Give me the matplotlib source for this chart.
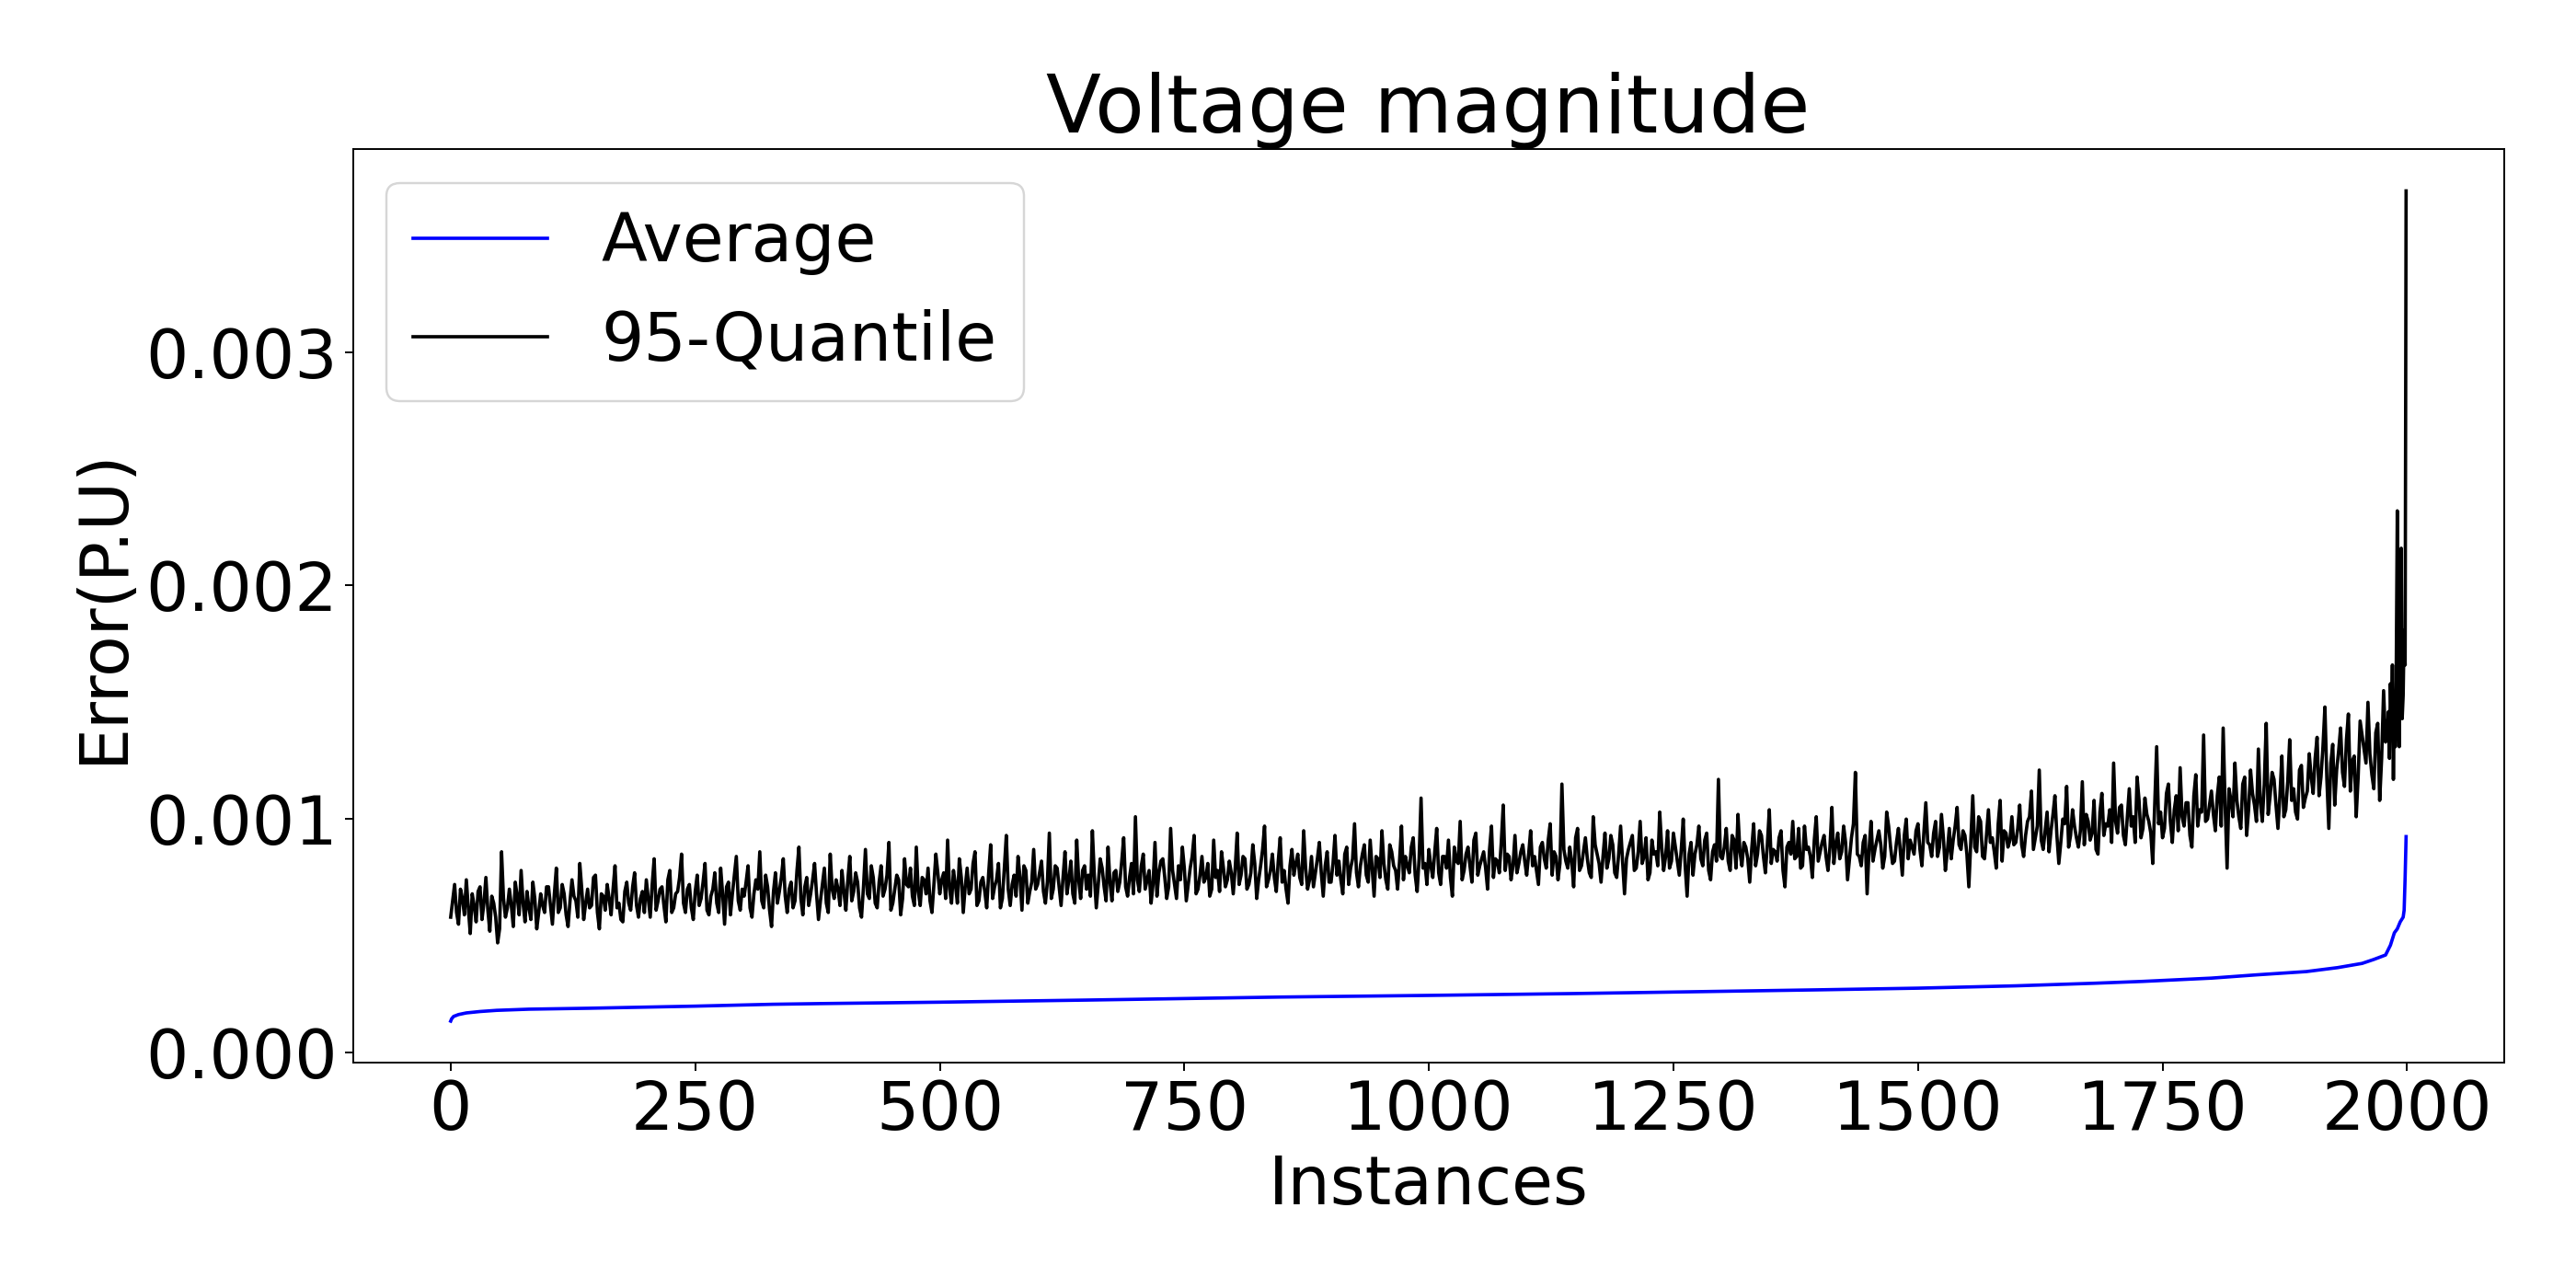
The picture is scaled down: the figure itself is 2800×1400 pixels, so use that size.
import numpy as np
import matplotlib
matplotlib.use("Agg")
import matplotlib.pyplot as plt

# Average error per instance (sorted curve), values in 1e-5 P.U
avg_x = [0, 1, 3, 8, 16, 30, 47, 80, 141, 250, 329, 379, 500, 650, 849, 1000,
         1150, 1291, 1400, 1500, 1600, 1680, 1730, 1800, 1846, 1897, 1929, 1954,
         1966, 1978, 1983, 1987, 1990, 1993, 1996, 1997, 1998, 1999]
avg_val = [13.5, 14.5, 15.5, 16.3, 17.0, 17.6, 18.1, 18.6, 19.0, 19.9, 20.7, 21.0,
           21.6, 22.5, 23.8, 24.5, 25.3, 26.2, 26.9, 27.6, 28.6, 29.7, 30.5, 31.9,
           33.3, 34.7, 36.4, 38.2, 39.9, 41.8, 46.0, 51.3, 53.0, 56.0, 58.0, 61.0,
           75.0, 92.5]

# 95-quantile error at instances 0, 4, 8, ... 1980 (1e-5 P.U)
q_body = [
    58, 72, 55, 66, 74, 51, 63, 69, 57, 75, 52, 64, 47, 86, 58, 70, 54, 67, 78, 56, 62, 73, 53, 68, 60,
    71, 55, 79, 62, 68, 54, 74, 65, 81, 57, 70, 63, 76, 53, 67, 72, 59, 80, 64, 56, 73, 61, 77, 58, 69,
    74, 58, 83, 65, 71, 56, 78, 62, 69, 85, 60, 72, 57, 76, 66, 81, 59, 70, 64, 79, 55, 73, 68, 84, 61,
    67, 80, 58, 74, 86, 62, 71, 54, 77, 69, 83, 60, 73, 65, 88, 59, 75, 68, 81, 57, 72, 64, 85, 66, 70,
    78, 61, 84, 69, 73, 58, 87, 66, 75, 62, 80, 70, 90, 64, 76, 59, 83, 71, 67, 88, 63, 74, 79, 60, 85,
    68, 77, 91, 64, 72, 83, 60, 79, 70, 86, 65, 75, 62, 89, 71, 81, 66, 93, 63, 76, 84, 61, 78, 69, 87,
    72, 82, 64, 94, 70, 79, 63, 86, 74, 68, 91, 66, 80, 76, 95, 62, 83, 71, 88, 65, 78, 73, 92, 67, 81,
    101, 69, 85, 74, 64, 90, 77, 83, 66, 96, 72, 80, 88, 65, 79, 93, 70, 84, 75, 67, 91, 78, 86, 71, 82,
    68, 94, 76, 83, 72, 89, 66, 80, 97, 74, 85, 69, 92, 78, 64, 87, 81, 75, 95, 70, 84, 77, 90, 67, 86,
    73, 93, 82, 68, 88, 79, 98, 71, 85, 76, 91, 67, 83, 95, 74, 89, 80, 70, 97, 84, 77, 92, 69, 109, 81,
    87, 75, 96, 72, 84, 91, 67, 82, 99, 78, 88, 73, 94, 80, 86, 70, 97, 83, 77, 106, 85, 74, 93, 81, 89,
    76, 95, 84, 72, 90, 79, 98, 86, 74, 115, 82, 88, 71, 96, 80, 92, 77, 101, 85, 73, 94, 83, 89, 75, 97,
    68, 87, 93, 79, 99, 84, 74, 91, 86, 103, 78, 95, 82, 88, 76, 100, 67, 90, 85, 97, 80, 94, 74, 89, 117,
    83, 96, 78, 91, 102, 80, 88, 73, 98, 85, 93, 77, 104, 87, 82, 95, 71, 90, 99, 84, 79, 97, 88, 75, 101,
    86, 93, 78, 105, 89, 83, 97, 74, 92, 120, 84, 90, 68, 99, 87, 95, 79, 103, 88, 82, 96, 76, 100, 91, 85,
    98, 80, 107, 89, 94, 84, 102, 78, 96, 91, 105, 87, 93, 71, 110, 86, 99, 83, 104, 92, 79, 108, 95, 88, 101,
    90, 106, 84, 99, 112, 92, 121, 87, 103, 95, 110, 81, 100, 114, 93, 97, 88, 116, 102, 91, 108, 85, 111, 98, 104,
    124, 94, 106, 89, 113, 101, 118, 92, 109, 99, 81, 131, 103, 96, 115, 90, 110, 122, 97, 107, 88, 119, 104, 136, 100,
    112, 95, 118, 139, 79, 108, 124, 101, 115, 93, 121, 106, 130, 99, 141, 110, 117, 96, 127, 104, 134, 113, 100, 123, 109,
    128, 111, 135, 118, 148, 96, 132, 121, 139, 114, 145, 125, 101, 142, 130, 150, 119, 137, 108, 155, 138,
]
# 95-quantile error at instances 2, 6, 10, ... 1978 (1e-5 P.U)
q_mid = [
    65, 60, 70, 59, 62, 68, 56, 71, 64, 61, 67, 58, 53, 66, 62, 63, 73, 59, 64, 69, 57, 66, 60, 63, 71,
    63, 68, 60, 72, 59, 65, 67, 58, 70, 64, 62, 75, 60, 68, 61, 66, 70, 62, 57, 69, 64, 71, 63, 66, 60,
    66, 72, 61, 70, 63, 74, 60, 68, 75, 64, 70, 62, 69, 63, 73, 61, 67, 77, 60, 68, 71, 59, 76, 65, 70,
    73, 62, 68, 70, 65, 76, 61, 69, 64, 75, 67, 70, 62, 78, 66, 71, 63, 74, 68, 65, 79, 60, 70, 74, 63,
    69, 74, 65, 77, 62, 71, 68, 80, 64, 73, 67, 76, 61, 70, 74, 66, 72, 79, 63, 69, 75, 68, 65, 72, 77,
    74, 66, 70, 78, 64, 75, 71, 68, 81, 63, 73, 69, 77, 66, 74, 62, 79, 70, 72, 67, 75, 80, 64, 73, 70,
    77, 69, 73, 66, 80, 71, 75, 68, 82, 64, 74, 78, 70, 67, 76, 72, 79, 65, 73, 77, 69, 82, 71, 75, 68,
    74, 80, 70, 78, 72, 67, 82, 75, 71, 78, 66, 74, 79, 72, 84, 68, 76, 73, 81, 70, 75, 69, 79, 74, 77,
    79, 72, 84, 70, 77, 81, 74, 87, 71, 78, 75, 82, 73, 70, 80, 76, 85, 72, 79, 74, 71, 83, 77, 80, 73,
    81, 76, 74, 85, 72, 83, 77, 80, 89, 73, 79, 84, 75, 81, 70, 86, 78, 82, 74, 80, 88, 76, 83, 79, 72,
    80, 86, 77, 84, 79, 75, 88, 81, 74, 85, 80, 91, 76, 83, 79, 87, 75, 82, 90, 78, 84, 80, 77, 86, 82,
    85, 80, 78, 88, 83, 91, 76, 84, 81, 87, 79, 82, 92, 78, 86, 83, 75, 89, 81, 84, 79, 93, 77, 85, 82,
    83, 90, 78, 86, 81, 92, 77, 85, 80, 88, 84, 79, 94, 82, 87, 80, 85, 76, 89, 83, 91, 78, 86, 82, 84,
    88, 82, 93, 79, 86, 90, 83, 87, 80, 95, 84, 89, 81, 86, 92, 78, 88, 85, 83, 96, 80, 87, 84, 91, 82,
    90, 84, 88, 81, 94, 86, 90, 83, 98, 85, 80, 93, 87, 82, 91, 89, 84, 97, 81, 90, 86, 93, 83, 88, 95,
    87, 94, 90, 84, 99, 88, 92, 86, 83, 97, 89, 95, 85, 91, 88, 101, 84, 93, 90, 86, 98, 82, 94, 91, 89,
    96, 89, 93, 101, 87, 97, 91, 95, 86, 102, 93, 90, 98, 88, 104, 92, 95, 89, 99, 94, 87, 103, 93, 97, 90,
    99, 105, 93, 101, 97, 90, 108, 96, 102, 94, 106, 98, 92, 111, 99, 104, 95, 101, 107, 93, 110, 97, 103, 99, 106,
    102, 110, 97, 106, 113, 101, 108, 96, 118, 104, 111, 99, 107, 115, 102, 120, 106, 110, 101, 116, 108, 103, 121, 105, 112,
    118, 126, 110, 131, 117, 124, 106, 129, 120, 134, 112, 127, 118, 136, 124, 128, 113, 141, 126, 133,
]
# last instances, one by one (1981..1999)
q_tail_x = list(range(1981, 2000))
q_tail = [146, 126, 158, 139, 166, 117, 154, 131, 168, 232, 146, 131, 175, 216,
          143, 153, 181, 166, 369]

q_x, q_val = [], []
for i, v in enumerate(q_body):
    q_x.append(4 * i)
    q_val.append(v)
    if i < len(q_mid):
        q_x.append(4 * i + 2)
        q_val.append(q_mid[i])
q_x += q_tail_x
q_val += q_tail

avg_y = np.array(avg_val) * 1e-5
q_y = np.array(q_val) * 1e-5

plt.rcParams["font.size"] = 30

fig, ax = plt.subplots(figsize=(16, 8), dpi=175)
ax.plot(avg_x, avg_y, color="blue", label="Average")
ax.plot(q_x, q_y, color="black", label="95-Quantile")

ax.set_title("Voltage magnitude", fontsize=36)
ax.set_xlabel("Instances")
ax.set_ylabel("Error(P.U)")
ax.legend(loc="upper left")

fig.subplots_adjust(left=0.137, right=0.972, bottom=0.175, top=0.884)
fig.savefig("out.png")
